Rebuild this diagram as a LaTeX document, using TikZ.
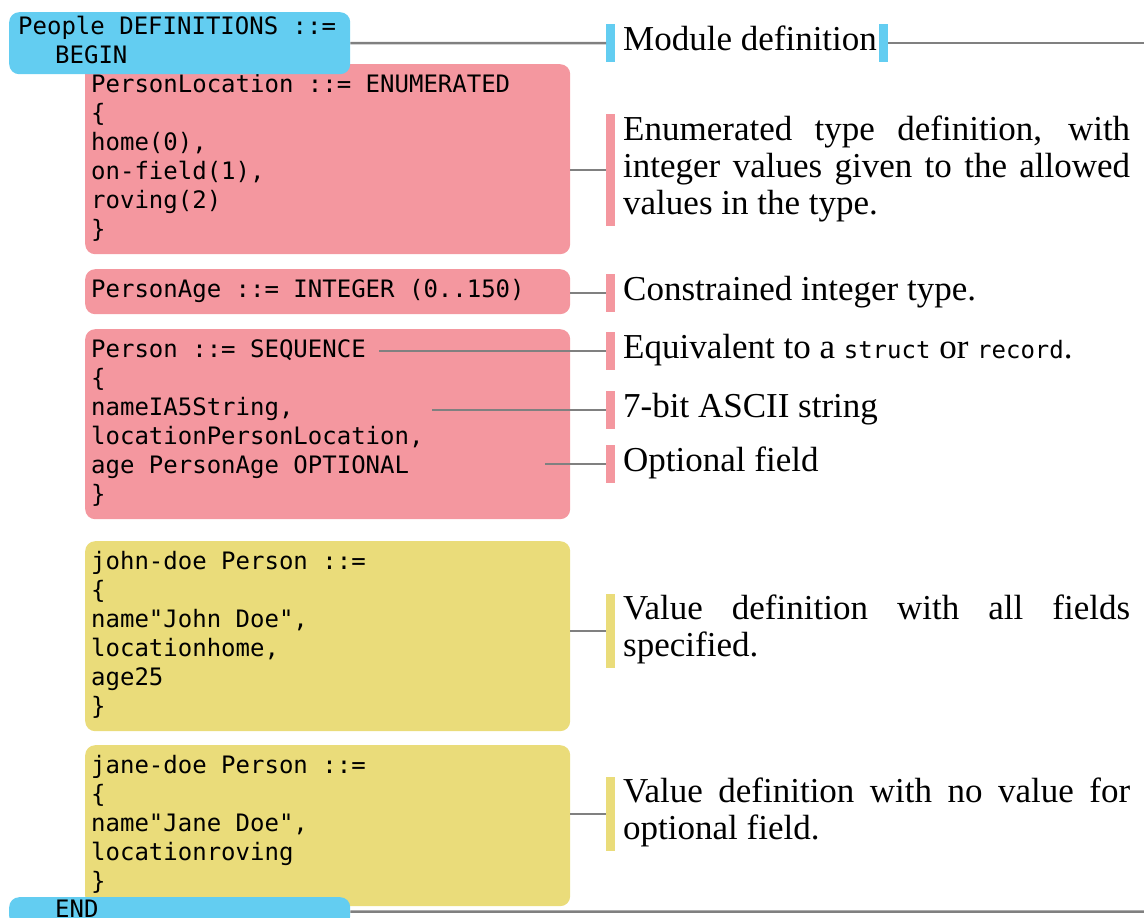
\documentclass[tikz,border=0pt]{standalone}
\usepackage{fontspec}
\setmainfont{Liberation Serif}
\setmonofont{DejaVu Sans Mono}
\definecolor{asnblue}{HTML}{63CDF1}
\definecolor{asnpink}{HTML}{F4979F}
\definecolor{asnyellow}{HTML}{EADC7A}
\definecolor{conngray}{HTML}{808080}
\newcommand\codesize{\ttfamily\fontsize{24}{29}\selectfont}
\newcommand\csp{\hspace*{14.45pt}}
\newcommand\notesize{\rmfamily\fontsize{35}{37}\selectfont\hyphenpenalty=10000\exhyphenpenalty=10000\relax}
\begin{document}
\begin{tikzpicture}[x=1pt,y=-1pt,
  codebox/.style={fill=#1, rounded corners=10pt, anchor=north west, inner xsep=6pt, inner ysep=8pt, text width=473pt, align=left, font=\codesize},
  modbox/.style={fill=asnblue, rounded corners=10pt, anchor=north west, inner xsep=9pt, inner ysep=2pt, text width=323pt, align=left, font=\codesize},
  note/.style={anchor=west, inner sep=0pt, text width=507pt, align=justify, font=\notesize},
  conn/.style={draw=conngray, line width=2.5pt},
]
\useasboundingbox (0,0) rectangle (1144,918);
\clip (0,0) rectangle (1144,918);

% code boxes
\node[codebox=asnpink] (loc) at (85,64) {\strut PersonLocation\csp::=\csp ENUMERATED\\\strut\{\\\strut home(0),\\\strut on-field(1),\\\strut roving(2)\\\strut\}};
\node[codebox=asnpink] (age) at (85,269) {\strut PersonAge\csp::=\csp INTEGER\csp(0..150)};
\node[codebox=asnpink] (person) at (85,329) {\strut Person\csp::=\csp SEQUENCE\\\strut\{\\\strut nameIA5String,\\\strut locationPersonLocation,\\\strut age\csp PersonAge\csp OPTIONAL\\\strut\}};
\node[codebox=asnyellow] (john) at (85,541) {\strut john-doe\csp Person\csp::=\\\strut\{\\\strut name"John\csp Doe",\\\strut locationhome,\\\strut age25\\\strut\}};
\node[codebox=asnyellow] (jane) at (85,745) {\strut jane-doe\csp Person\csp::=\\\strut\{\\\strut name"Jane\csp Doe",\\\strut locationroving\\\strut\}};

% module boxes
\node[modbox] (begin) at (9,12) {\strut People\csp DEFINITIONS\csp::=\\\strut\hspace*{37pt}BEGIN};
\node[modbox, inner ysep=0pt] (end) at (9,897) {\raisebox{2pt}{\strut\hspace*{37pt}END}};

% notes
\node[anchor=west, inner sep=0pt, font=\notesize] (mod) at (623,43) {\strut Module definition};
\node[note] (enum) at (623,170) {\strut Enumerated type definition, with integer values given to the allowed values in the type.\strut};
\node[note] (cons) at (623,293) {\strut Constrained integer type.};
\node[note] (equiv) at (623,351) {\strut Equivalent to a {\codesize struct} or {\codesize record}.};
\node[note] (ascii) at (623,410) {\strut 7-bit ASCII string};
\node[note] (opt) at (623,464) {\strut Optional field};
\node[note] (vall) at (623,631) {\strut Value definition with all fields specified.\strut};
\node[note] (vnone) at (623,814) {\strut Value definition with no value for optional field.\strut};

% bars
\fill[asnblue] ([xshift=-17pt]mod.north west) rectangle ([xshift=-8pt]mod.south west);
\fill[asnblue] ([xshift=2pt]mod.north east) rectangle ([xshift=11pt]mod.south east);
\foreach \n in {enum,cons,equiv,ascii,opt}
  \fill[asnpink] ([xshift=-17pt]\n.north west) rectangle ([xshift=-8pt]\n.south west);
\foreach \n in {vall,vnone}
  \fill[asnyellow] ([xshift=-17pt]\n.north west) rectangle ([xshift=-8pt]\n.south west);

% connector ends
\coordinate (rightA) at (1144,43);
\coordinate (rightB) at (1144,911.5);
\coordinate (seqend) at (379,351);
\coordinate (nameend) at (432,410);
\coordinate (optend) at (545,464);

% connectors
\draw[conn] (begin.east) -- ([xshift=-17pt]mod.west);
\draw[conn] ([xshift=11pt]mod.east) -- (rightA);
\draw[conn] (loc.east |- enum.west) -- ([xshift=-17pt]enum.west);
\draw[conn] (age.east |- cons.west) -- ([xshift=-17pt]cons.west);
\draw[conn] (seqend) -- ([xshift=-17pt]equiv.west);
\draw[conn] (nameend) -- ([xshift=-17pt]ascii.west);
\draw[conn] (optend) -- ([xshift=-17pt]opt.west);
\draw[conn] (john.east |- vall.west) -- ([xshift=-17pt]vall.west);
\draw[conn] (jane.east |- vnone.west) -- ([xshift=-17pt]vnone.west);
\draw[conn] (end.east) -- (rightB);
\end{tikzpicture}
\end{document}
